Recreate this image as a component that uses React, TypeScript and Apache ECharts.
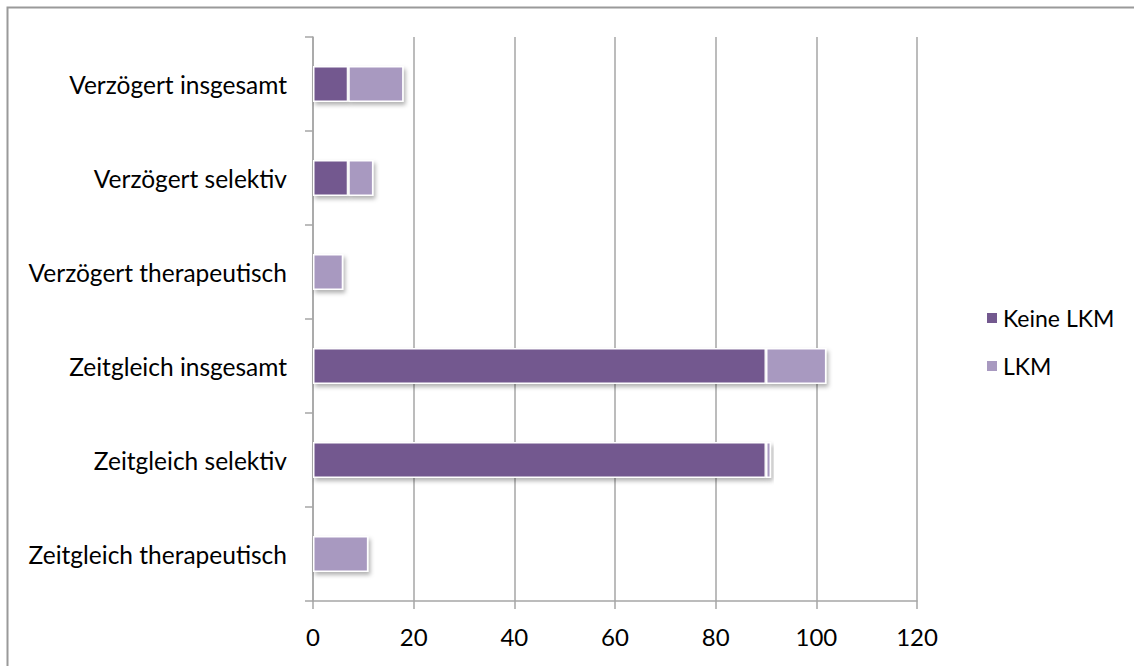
import React, { useEffect, useRef } from "react";
import * as echarts from "echarts";

const categories = [
  "Zeitgleich therapeutisch",
  "Zeitgleich selektiv",
  "Zeitgleich insgesamt",
  "Verzögert therapeutisch",
  "Verzögert selektiv",
  "Verzögert insgesamt",
];
const keineLKM = [0, 90, 90, 0, 7, 7];
const lkm = [11, 1, 12, 6, 5, 11];
const seriesNames = ["Keine LKM", "LKM"];
const colors = ["#73598f", "#a899c0"];

const FONT = "Lato, 'Open Sans', sans-serif";

export default function App() {
  const ref = useRef<HTMLDivElement>(null);
  useEffect(() => {
    if (!ref.current) return;
    const chart = echarts.init(ref.current, undefined, { renderer: "svg" });
    const barStyle = (c: string) => ({
      color: c,
      borderColor: "#ffffff",
      borderWidth: 1.5,
      shadowBlur: 4,
      shadowOffsetX: 2,
      shadowOffsetY: 3,
      shadowColor: "rgba(0,0,0,0.3)",
    });
    chart.setOption({
      animation: false,
      backgroundColor: "#ffffff",
      graphic: [
        {
          type: "rect",
          shape: { x: 7.5, y: 7.5, width: 1300, height: 800 },
          style: { fill: "none", stroke: "#9a9a9a", lineWidth: 2 },
          silent: true,
        },
      ],
      grid: { left: 313, right: 217, top: 37, bottom: 65 },
      legend: {
        orient: "vertical",
        left: 980,
        top: 301,
        icon: "rect",
        itemWidth: 12,
        itemHeight: 12,
        itemGap: 24,
        data: seriesNames,
        textStyle: { fontFamily: FONT, fontSize: 23, lineHeight: 24, color: "#000", padding: [0, 0, 0, 0] },
      },
      xAxis: {
        type: "value",
        min: 0,
        max: 120,
        interval: 20,
        axisLine: { show: true, lineStyle: { color: "#a6a6a6", width: 1.5 } },
        axisTick: { show: true, length: 8, lineStyle: { color: "#a6a6a6", width: 1.5 } },
        splitLine: { show: true, lineStyle: { color: "#a6a6a6", width: 1.5 } },
        axisLabel: { fontFamily: FONT, fontSize: 24, color: "#000", margin: 23 },
      },
      yAxis: {
        type: "category",
        data: categories,
        axisLine: { show: true, lineStyle: { color: "#a6a6a6", width: 1.5 } },
        axisTick: { show: true, length: 8, alignWithLabel: false, lineStyle: { color: "#a6a6a6", width: 1.5 } },
        axisLabel: { fontFamily: FONT, fontSize: 24.5, color: "#000", margin: 26 },
      },
      series: [
        {
          name: seriesNames[0],
          type: "bar",
          stack: "total",
          barWidth: 36,
          data: keineLKM,
          itemStyle: barStyle(colors[0]),
        },
        {
          name: seriesNames[1],
          type: "bar",
          stack: "total",
          barWidth: 36,
          data: lkm,
          itemStyle: barStyle(colors[1]),
        },
      ],
    });
    return () => chart.dispose();
  }, []);
  return (
    <div
      ref={ref}
      style={{ position: "absolute", left: 0, top: 0, width: 1134, height: 666 }}
    />
  );
}
